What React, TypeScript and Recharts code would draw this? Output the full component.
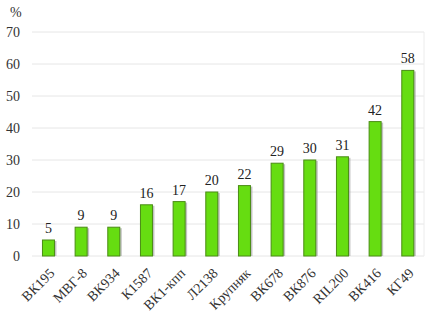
import React from "react";
import { BarChart, Bar, XAxis, YAxis, CartesianGrid, LabelList } from "recharts";

const categories = ["ВК195", "МВГ-8", "ВК934", "К1587", "ВК1-кпп", "Л2138", "Крупняк", "ВК678", "ВК876", "RIL200", "ВК416", "КГ49"];
const values = [5, 9, 9, 16, 17, 20, 22, 29, 30, 31, 42, 58];
const yTicks = [0, 10, 20, 30, 40, 50, 60, 70];

const data = categories.map((name, i) => ({ name, value: values[i] }));

const FONT = "'Liberation Serif', 'Times New Roman', serif";

const BarShape = (props: any) => {
  const { x, y, width, height } = props;
  if (height <= 0) return null;
  return (
    <g>
      <rect x={x + 2} y={y + 1} width={width} height={height - 1} fill="#9a9a9a" opacity={0.6} />
      <rect x={x} y={y} width={width} height={height} fill="#66dd11" stroke="#4a8c14" strokeWidth={1} />
    </g>
  );
};

const XTick = (props: any) => {
  const { x, y, payload } = props;
  return (
    <g transform={`translate(${x},${y + 3})`}>
      <text x={0} y={0} dy={10} textAnchor="end" transform="rotate(-45)" style={{ fontFamily: FONT, fontSize: 14, fill: "#333" }}>
        {payload.value}
      </text>
    </g>
  );
};

const YTick = (props: any) => {
  const { y, payload } = props;
  return (
    <text x={20} y={y} dy={5} textAnchor="end" style={{ fontFamily: FONT, fontSize: 14, fill: "#333" }}>
      {payload.value}
    </text>
  );
};

const TopLabel = (props: any) => {
  const { x, y, width, value } = props;
  return (
    <text x={x + width / 2} y={y - 7} textAnchor="middle" style={{ fontFamily: FONT, fontSize: 14, fill: "#222" }}>
      {value}
    </text>
  );
};

export default function App() {
  return (
    <div style={{ position: "absolute", left: 0, top: 0, width: 430, height: 319, background: "#fff" }}>
      <BarChart width={430} height={319} data={data} margin={{ top: 32, right: 6, bottom: 0, left: 0 }} barCategoryGap="32%">
        <CartesianGrid vertical={false} stroke="#e6e6e6" />
        <CartesianGrid horizontal={false} verticalPoints={[424]} stroke="#ececec" />
        <XAxis
          dataKey="name"
          interval={0}
          height={63}
          tickLine={false}
          axisLine={false}
          tick={<XTick />}
        />
        <YAxis
          domain={[0, 70]}
          ticks={yTicks}
          width={32}
          tickLine={false}
          axisLine={false}
          tick={<YTick />}
        />
        <Bar dataKey="value" isAnimationActive={false} shape={<BarShape />}>
          <LabelList dataKey="value" content={<TopLabel />} />
        </Bar>
        <text x={10} y={17} style={{ fontFamily: FONT, fontSize: 14, fill: "#333" }}>%</text>
      </BarChart>
    </div>
  );
}
